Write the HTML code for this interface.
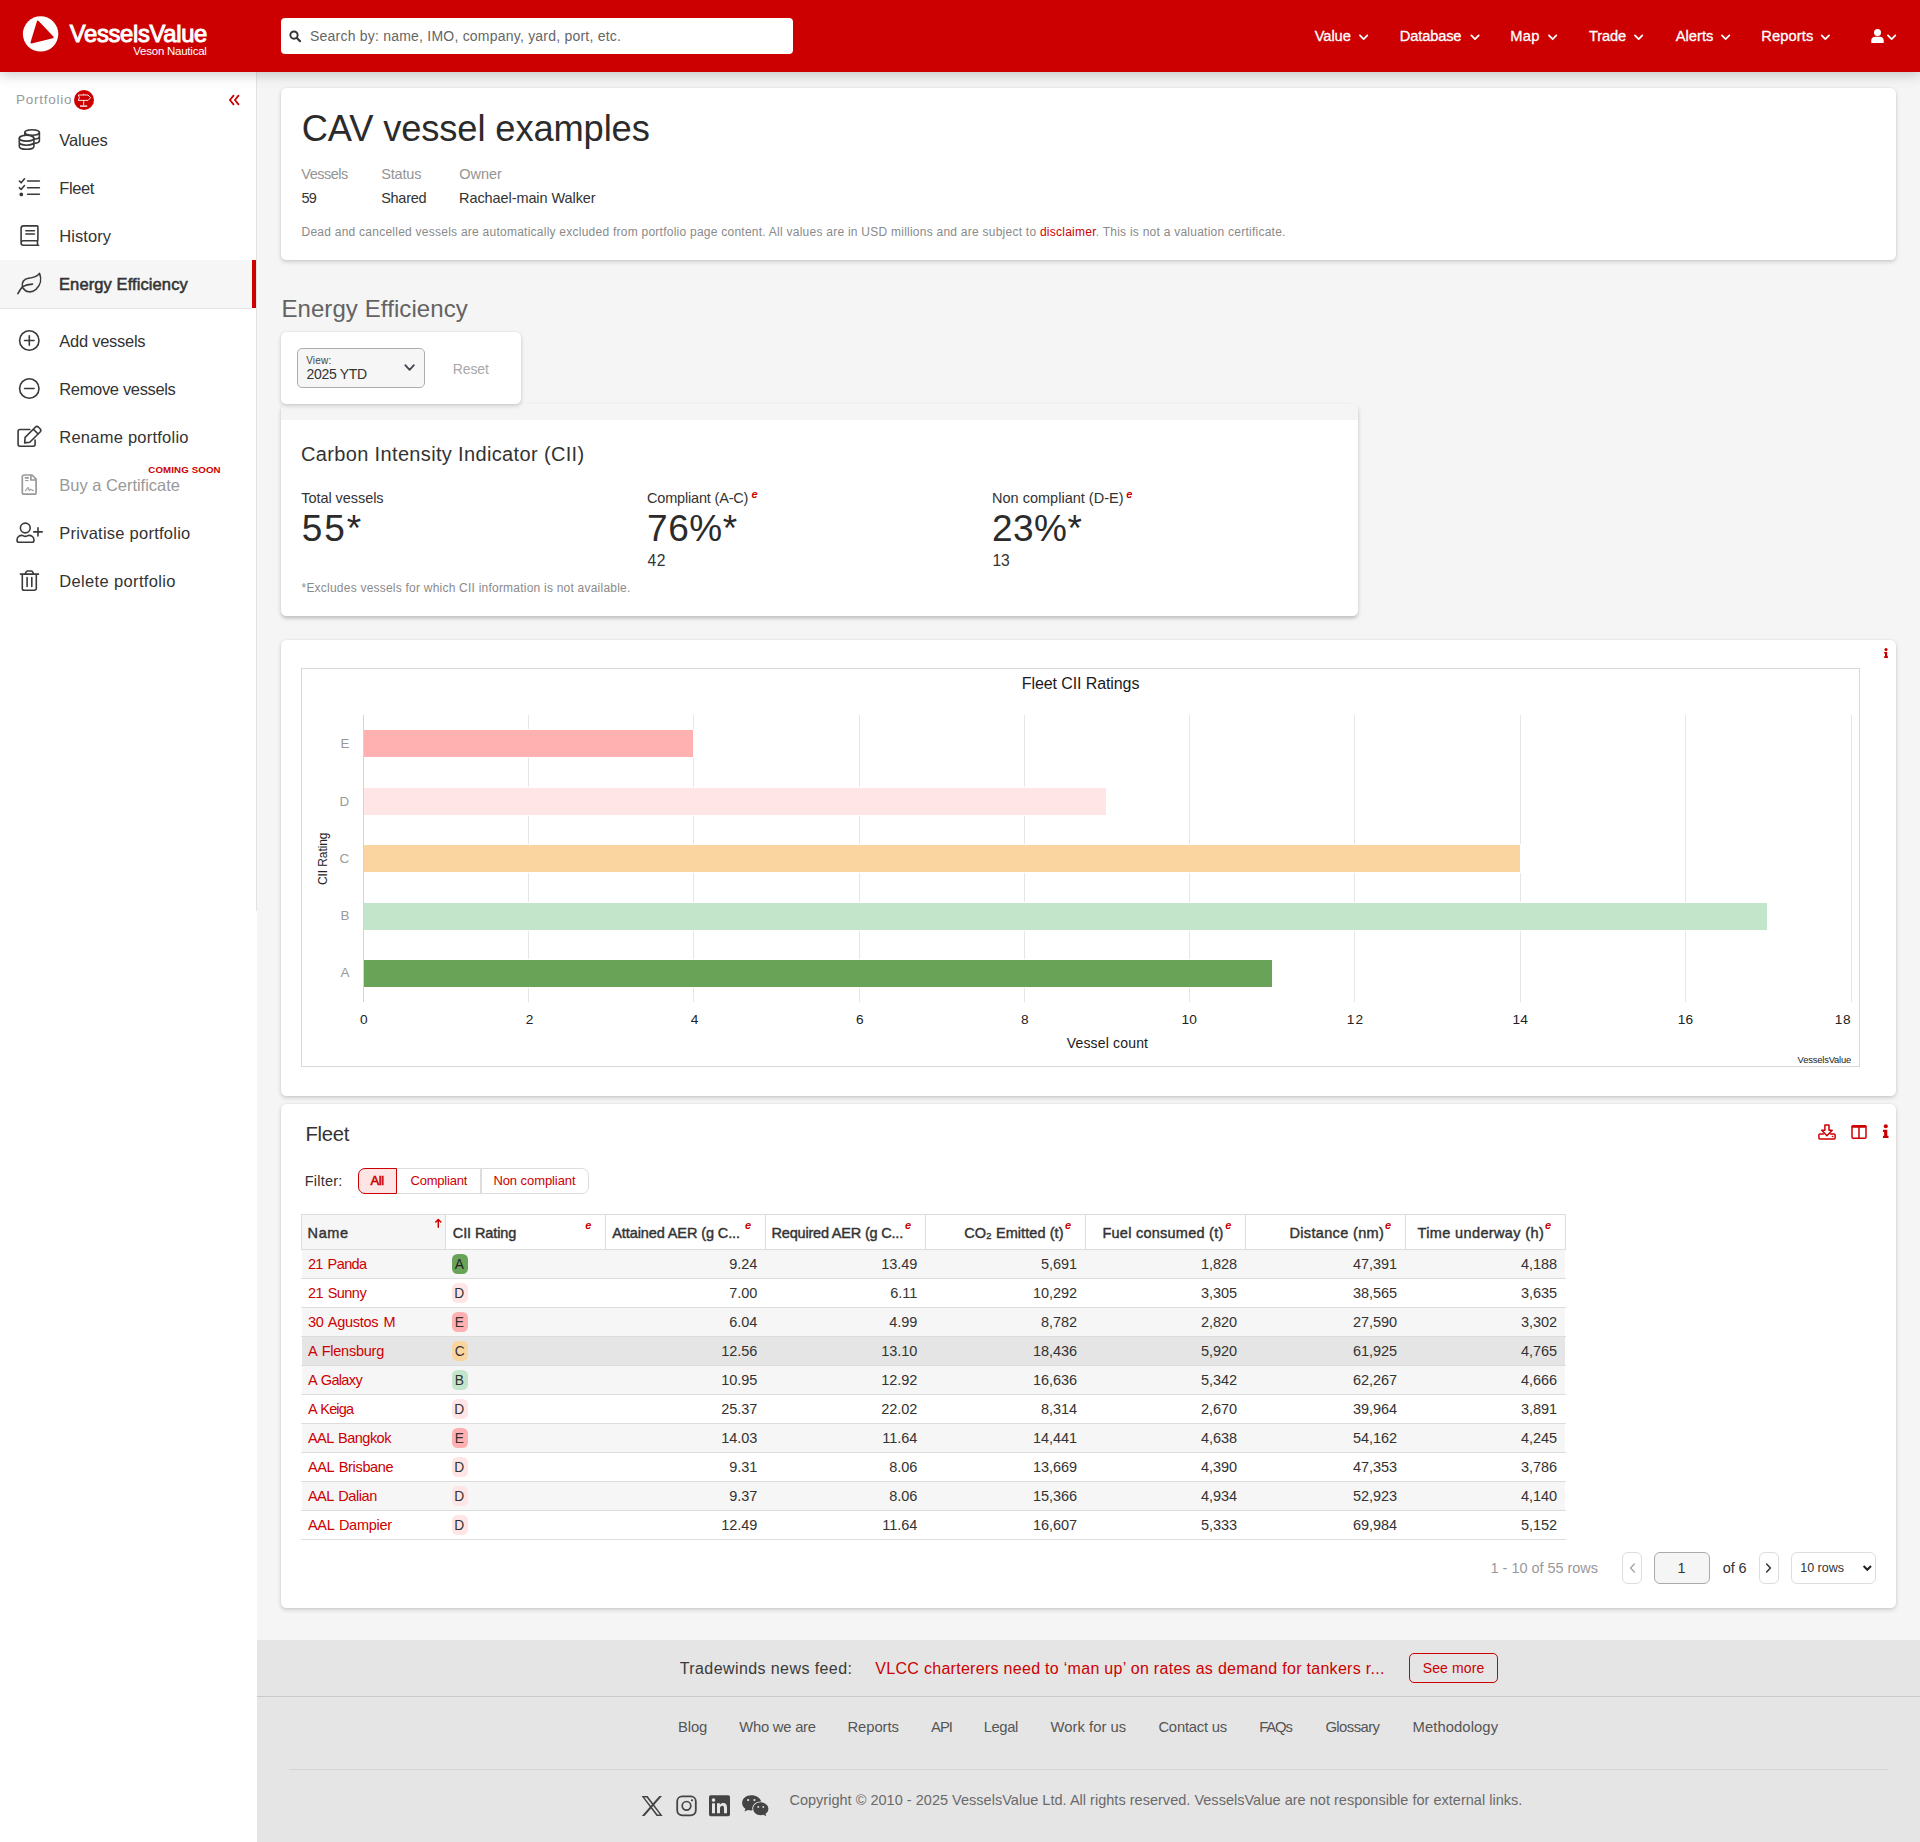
<!DOCTYPE html>
<html lang="en"><head>
<meta charset="utf-8">
<title>CAV vessel examples - Energy Efficiency</title>
<style>
*{box-sizing:border-box;margin:0;padding:0}
html,body{width:1920px;height:1842px;overflow:hidden;background:#fff;font-family:"Liberation Sans",sans-serif;color:#333}
body{position:relative}
.a{position:absolute}
.t{position:absolute;white-space:nowrap;line-height:1;font-size:14.5px;color:#333}
.red{color:#c00}
.g9{color:#949494}
.w{color:#fff}
.sb{font-weight:bold}
svg{position:absolute;overflow:visible}
#hdr{left:0;top:0;width:1920px;height:72px;background:#cc0000;box-shadow:0 3px 12px rgba(0,0,0,.2)}
#search{left:281px;top:18px;width:512px;height:36px;background:#fff;border-radius:4px}
#sideline{left:256px;top:72px;width:1px;height:839px;background:#e3e3e3}
#main{left:257px;top:72px;width:1663px;height:1568px;background:#f5f5f5}
.card{position:absolute;background:#fff;border-radius:5.5px;box-shadow:0 2px 4px rgba(0,0,0,.155),0 0 3px rgba(0,0,0,.07)}
#foot{left:257px;top:1640px;width:1663px;height:202px;background:#e5e5e5}
.si{font-size:16.5px}
.e{font-size:11px;font-style:italic;font-weight:bold;color:#c00}
.hb{font-size:14.5px;color:#333;-webkit-text-stroke:.42px}
.sm{-webkit-text-stroke:.55px}
.num{color:#333}
.nv{-webkit-text-stroke:0.3px #fff}
.tk{font-size:13.7px;color:#222}
.fl{color:#555;font-size:14.8px}
</style>
</head>
<body>
<div class="a" id="main"></div>
<div class="a" id="foot"></div>
<div class="a" id="sideline"></div>
<div class="a" id="hdr"></div>
<!-- logo -->
<svg style="left:23px;top:16px" width="36" height="36" viewBox="0 0 36 36"><circle cx="17.6" cy="17.9" r="17.7" fill="#fff"></circle><path d="M14.9 5.6 L29.6 21.3 L8.5 26.6 Z" fill="#cc0000" stroke="#cc0000" stroke-width="2" stroke-linejoin="round"></path></svg>
<span class="t w" style="font-size: 23.8px; -webkit-text-stroke: 1px rgb(255, 255, 255); letter-spacing: -0.325px; left: 69.8px; top: 21.9px;">VesselsValue</span>
<span class="t w" style="font-size: 11.5px; letter-spacing: -0.243px; left: 133.3px; top: 45.85px;">Veson Nautical</span>
<div class="a" id="search"></div>
<svg style="left:288px;top:29px" width="14" height="14" viewBox="288 29 14 14"><circle cx="294" cy="35.1" r="3.65" fill="none" stroke="#333" stroke-width="1.9"></circle><path d="M296.9 38 L300.1 41.2" stroke="#333" stroke-width="2.1" stroke-linecap="round"></path></svg>
<span class="t" style="font-size: 14px; color: rgb(102, 102, 102); letter-spacing: 0.218px; left: 310px; top: 28.8px;">Search by: name, IMO, company, yard, port, etc.</span>
<!-- nav -->
<span class="t w nv" style="font-size: 14.7px; letter-spacing: -0.079px; left: 1314.7px; top: 29.15px;">Value</span>
<span class="t w nv" style="font-size: 14.7px; letter-spacing: -0.172px; left: 1399.8px; top: 29.15px;">Database</span>
<span class="t w nv" style="font-size: 14.7px; letter-spacing: 0.295px; left: 1510.3px; top: 29.15px;">Map</span>
<span class="t w nv" style="font-size: 14.7px; letter-spacing: -0.165px; left: 1589px; top: 29.15px;">Trade</span>
<span class="t w nv" style="font-size: 14.7px; letter-spacing: 0.019px; left: 1675.7px; top: 29.15px;">Alerts</span>
<span class="t w nv" style="font-size: 14.7px; letter-spacing: 0.101px; left: 1761.3px; top: 29.15px;">Reports</span>
<svg style="left:0;top:0" width="1920" height="72" viewBox="0 0 1920 72" fill="none" stroke="#fff" stroke-width="1.75" stroke-linecap="round" stroke-linejoin="round">
<path d="M1359.95 35.4 l3.7 3.8 l3.7 -3.8"></path><path d="M1471.35 35.4 l3.7 3.8 l3.7 -3.8"></path><path d="M1548.95 35.4 l3.7 3.8 l3.7 -3.8"></path><path d="M1634.95 35.4 l3.7 3.8 l3.7 -3.8"></path><path d="M1721.95 35.4 l3.7 3.8 l3.7 -3.8"></path><path d="M1821.65 35.4 l3.7 3.8 l3.7 -3.8"></path><path d="M1887.95 35.4 l3.7 3.8 l3.7 -3.8"></path>
</svg>
<svg style="left:1870.5px;top:29px" width="13" height="14" viewBox="0 0 13 14"><circle cx="6.5" cy="3.6" r="3.5" fill="#fff"></circle><path d="M0.3 14 V11.2 C0.3 9 2 7.8 4 7.8 H9 C11 7.8 12.7 9 12.7 11.2 V14 Z" fill="#fff"></path></svg>
<!-- sidebar -->
<div class="a" style="left:0;top:260px;width:256px;height:48px;background:#f6f6f6"></div>
<div class="a" style="left:252px;top:260px;width:4px;height:48px;background:#cc0000"></div>
<div class="a" style="left:0;top:308px;width:252px;height:1px;background:#e4e4e4"></div>
<span class="t" style="font-size: 13.5px; color: rgb(153, 153, 153); letter-spacing: 0.747px; left: 16px; top: 93.35px;">Portfolio</span>
<svg style="left:74px;top:90px" width="20" height="20" viewBox="74 90 20 20"><circle cx="84" cy="100" r="10" fill="#cc0000"></circle><path d="M78.3 95 H88 L90.6 97.7 L88 100.4 H78.3 L79.4 97.7 Z M83.7 93.8 V95 M83.7 100.4 V105.4" fill="none" stroke="#fff" stroke-width="0.9" stroke-linejoin="round"></path><path d="M80 106.1 H87.2" stroke="#fff" stroke-width="1.3"></path></svg>
<svg style="left:228px;top:94px" width="14" height="12" viewBox="228 94 14 12" fill="none" stroke="#c00" stroke-width="1.8" stroke-linecap="round" stroke-linejoin="round"><path d="M233.5 95.7 L229.9 100 L233.5 104.3 M238.5 95.7 L234.9 100 L238.5 104.3"></path></svg>
<span class="t si" style="letter-spacing: -0.137px; left: 59.3px; top: 131.95px;">Values</span>
<span class="t si" style="letter-spacing: -0.401px; left: 59.3px; top: 179.95px;">Fleet</span>
<span class="t si" style="letter-spacing: 0.068px; left: 59.3px; top: 227.95px;">History</span>
<span class="t si sm" style="letter-spacing: 0.098px; left: 59px; top: 275.65px;">Energy Efficiency</span>
<span class="t si" style="letter-spacing: -0.272px; left: 59.3px; top: 332.95px;">Add vessels</span>
<span class="t si" style="letter-spacing: -0.346px; left: 59.3px; top: 380.95px;">Remove vessels</span>
<span class="t si" style="letter-spacing: 0.235px; left: 59.3px; top: 428.95px;">Rename portfolio</span>
<span class="t si" style="color: rgb(153, 153, 153); letter-spacing: -0.03px; left: 59.3px; top: 476.95px;">Buy a Certificate</span>
<span class="t si" style="letter-spacing: 0.245px; left: 59.3px; top: 524.95px;">Privatise portfolio</span>
<span class="t si" style="letter-spacing: 0.346px; left: 59.3px; top: 572.95px;">Delete portfolio</span>
<span class="t red sb" style="font-size: 9.7px; letter-spacing: 0.125px; left: 148.3px; top: 464.65px;">COMING SOON</span>
<svg style="left:0;top:120px" width="60" height="480" viewBox="0 120 60 480" fill="none" stroke="#3a3a3a" stroke-width="1.6" stroke-linecap="round" stroke-linejoin="round">
<!-- coins -->
<ellipse cx="32.1" cy="132.5" rx="7.3" ry="2.8"></ellipse>
<path d="M24.8 132.5 V135.4 M39.4 132.5 V140.7 A7.3 2.8 0 0 1 34.3 143.4 M39.4 136.6 A7.3 2.8 0 0 1 34.3 139.3"></path>
<ellipse cx="26.6" cy="138.2" rx="7.3" ry="2.9"></ellipse>
<path d="M19.3 138.2 V146.4 A7.3 2.9 0 0 0 33.9 146.4 V138.2 M19.3 142.3 A7.3 2.9 0 0 0 33.9 142.3"></path>
<!-- tasks -->
<path d="M27.6 181 H39.4 M27.6 187.7 H39.4 M27.6 194.3 H39.4 M19.4 181 L21.1 182.8 L24.5 178.8 M19.4 187.7 L21.1 189.5 L24.5 185.5"></path>
<circle cx="21.3" cy="194.4" r="1.1" fill="#3a3a3a"></circle>
<!-- book -->
<path d="M21.1 243 V228.4 A2.5 2.5 0 0 1 23.6 225.9 H37.1 Q37.9 225.9 37.9 226.7 V240 Q37.9 240.8 37.1 240.8 H23.3 A2.2 2.2 0 0 0 23.3 245.2 H38.6 M37.5 240.8 V245.2 M25.9 230.8 H34.4 M25.9 234 H34.4"></path>
<!-- leaf -->
<path d="M17.9 293.7 Q19.8 289.6 22.6 286.6 Q26.8 284.3 32.5 284.1 M22.4 286.5 C21.5 282.4 24 278.7 28.5 278.3 C33 277.9 36.6 277.4 39.5 273.4 C41.9 279 40.6 285.2 36 289.4 C31.6 293.2 25.6 292.6 23 287.8"></path>
<!-- plus circle -->
<circle cx="29.3" cy="340.5" r="9.7"></circle><path d="M24.6 340.5 H34 M29.3 335.8 V345.2"></path>
<!-- minus circle -->
<circle cx="29.3" cy="388.5" r="9.7"></circle><path d="M24.6 388.5 H34"></path>
<!-- edit -->
<path d="M29.8 429.5 H20 A1.9 1.9 0 0 0 18.1 431.4 V444.3 A1.9 1.9 0 0 0 20 446.2 H33.2 A1.9 1.9 0 0 0 35.1 444.3 V440"></path>
<path d="M25.1 437.4 L35.3 427.2 Q36.9 425.7 38.5 427.2 L40.1 428.8 Q41.6 430.4 40.1 432 L29.8 442.3 L24.7 442.9 Z M33.5 429.4 L37.9 433.8"></path>
<!-- user plus -->
<circle cx="25.3" cy="528" r="4.9"></circle>
<path d="M17 540.2 C17 537.2 19.3 535.4 22 535.4 C23.2 535.4 23.8 536.4 25.4 536.4 C27 536.4 27.6 535.4 28.8 535.4 C31.6 535.4 34 537.2 34 540.2 Q34 542.3 32 542.3 H19 Q17 542.3 17 540.2 Z M33.8 531.9 H42.2 M38 527.8 V536"></path>
<!-- trash -->
<path d="M20.4 574.1 H38.5 M24.8 574.1 L26.4 571.6 Q26.8 571 27.5 571 H31.3 Q32 571 32.4 571.6 L33.8 574.1 M22.3 574.3 V588.4 A1.8 1.8 0 0 0 24.1 590.2 H34.5 A1.8 1.8 0 0 0 36.3 588.4 V574.3 M27.1 577.6 V586.4 M31.8 577.6 V586.4"></path>
</svg>
<!-- certificate (gray) -->
<svg style="left:0;top:464px" width="60" height="40" viewBox="0 464 60 40" fill="none" stroke="#999" stroke-width="1.7" stroke-linecap="round" stroke-linejoin="round">
<path d="M24 475 H32 L36.1 479.2 V492.4 A1.7 1.7 0 0 1 34.4 494.1 H24 A1.7 1.7 0 0 1 22.3 492.4 V476.7 A1.7 1.7 0 0 1 24 475 Z M30.9 475.2 V480 H36"></path>
<path d="M25.4 477.9 H28.3" stroke-width="1.6"></path><path d="M25.4 480.6 H28.3" stroke-width="1"></path>
<path d="M25.4 490.6 C27 490.6 27 487.6 28 487.6 C29 487.6 28.8 490.8 29.4 490.6 C30 490.4 30 489.2 30.8 489.2 C31.8 489.2 32 490.6 33.4 490.6" stroke-width="1.1"></path>
</svg>
<!-- title card -->
<div class="card" style="left:281px;top:88px;width:1615px;height:172px"></div>
<span class="t" style="font-size: 36.3px; color: rgb(43, 43, 43); letter-spacing: -0.122px; left: 301.7px; top: 111.25px;">CAV vessel examples</span>
<span class="t g9" style="letter-spacing: -0.489px; left: 301.3px; top: 166.95px;">Vessels</span>
<span class="t g9" style="letter-spacing: -0.172px; left: 381.2px; top: 166.95px;">Status</span>
<span class="t g9" style="letter-spacing: -0.023px; left: 459.2px; top: 166.95px;">Owner</span>
<span class="t" style="letter-spacing: -0.776px; left: 301.5px; top: 190.75px;">59</span>
<span class="t" style="letter-spacing: -0.28px; left: 381.2px; top: 190.75px;">Shared</span>
<span class="t" style="letter-spacing: -0.08px; left: 459px; top: 190.75px;">Rachael-main Walker</span>
<span class="t" style="font-size: 12px; color: rgb(138, 138, 138); letter-spacing: 0.246px; left: 301.5px; top: 226px;">Dead and cancelled vessels are automatically excluded from portfolio page content. All values are in USD millions and are subject to <span class="red">disclaimer</span>. This is not a valuation certificate.</span>
<!-- heading -->
<span class="t" style="font-size: 24px; color: rgb(99, 99, 99); letter-spacing: 0.088px; left: 281.4px; top: 296.9px;">Energy Efficiency</span>
<!-- filter card -->
<div class="card" style="left:281px;top:404px;width:1077px;height:212px;background:#f5f5f5;box-shadow:0 2px 4px rgba(0,0,0,.155),1px 3px 3px rgba(0,0,0,.04),-1px 3px 3px rgba(0,0,0,.04)"></div>
<div class="card" style="left:281px;top:332px;width:240px;height:72px"></div>
<div class="a" style="left:297px;top:348px;width:128px;height:40px;border:1px solid #adadad;border-radius:5px;background:#f6f6f6"></div>
<span class="t" style="font-size: 10px; color: rgb(68, 68, 68); letter-spacing: 0.174px; left: 306.2px; top: 355.8px;">View:</span>
<span class="t" style="font-size: 14px; letter-spacing: -0.31px; left: 306.5px; top: 366.9px;">2025 YTD</span>
<svg style="left:403px;top:362px" width="12" height="10" viewBox="403 362 12 10" fill="none" stroke="#454550" stroke-width="1.8" stroke-linecap="round" stroke-linejoin="round"><path d="M405.3 365.2 L409.6 369.8 L413.9 365.2"></path></svg>
<span class="t" style="font-size: 14px; color: rgb(168, 168, 168); letter-spacing: -0.122px; left: 452.8px; top: 362.1px;">Reset</span>
<!-- CII card -->
<div class="a" style="left:281px;top:420px;width:1077px;height:196px;background:#fff;border-radius:0 0 6px 6px"></div>
<span class="t" style="font-size: 20px; letter-spacing: 0.349px; left: 301px; top: 444px;">Carbon Intensity Indicator (CII)</span>
<span class="t" style="letter-spacing: -0.064px; left: 301.3px; top: 491.05px;">Total vessels</span>
<span class="t" style="font-size: 37px; color: rgb(43, 43, 43); letter-spacing: 1.918px; left: 301.7px; top: 510px;">55*</span>
<span class="t" style="letter-spacing: -0.179px; left: 647px; top: 491.05px;">Compliant (A-C)</span>
<span class="t e" style="letter-spacing: 0px; left: 751.6px; top: 488.9px;">e</span>
<span class="t" style="font-size: 37px; color: rgb(43, 43, 43); letter-spacing: 0.549px; left: 647px; top: 510px;">76%*</span>
<span class="t" style="font-size: 15.7px; letter-spacing: 0.472px; left: 647.5px; top: 552.65px;">42</span>
<span class="t" style="letter-spacing: 0.01px; left: 992px; top: 491.05px;">Non compliant (D-E)</span>
<span class="t e" style="letter-spacing: 0px; left: 1126.3px; top: 488.9px;">e</span>
<span class="t" style="font-size: 37px; color: rgb(43, 43, 43); letter-spacing: 0.482px; left: 992px; top: 510px;">23%*</span>
<span class="t" style="font-size: 15.7px; letter-spacing: -0.328px; left: 992.6px; top: 552.65px;">13</span>
<span class="t" style="font-size: 12px; color: rgb(138, 138, 138); letter-spacing: 0.222px; left: 301.5px; top: 581.7px;">*Excludes vessels for which CII information is not available.</span>
<!-- chart card -->
<div class="card" style="left:281px;top:640px;width:1615px;height:456px"></div>
<div class="a" style="left:301px;top:668px;width:1559px;height:399px;border:1px solid #d9d9d9"></div>
<svg style="left:0;top:640px" width="1920" height="460" viewBox="0 640 1920 460" shape-rendering="crispEdges">
<g stroke="#e6e6e6" stroke-width="1">
<path d="M528.5 715 V1002 M693.5 715 V1002 M859.5 715 V1002 M1024.5 715 V1002 M1189.5 715 V1002 M1354.5 715 V1002 M1520.5 715 V1002 M1685.5 715 V1002 M1851.5 715 V1002"></path>
</g>
<rect x="363.5" y="729.5" width="330.0" height="28.0" fill="none" stroke="#fff" stroke-width="1"></rect><rect x="364" y="730" width="329" height="27" fill="#ffb0b0"></rect>
<rect x="363.5" y="787.5" width="743.0" height="28.0" fill="none" stroke="#fff" stroke-width="1"></rect><rect x="364" y="788" width="742" height="27" fill="#ffe5e5"></rect>
<rect x="363.5" y="844.5" width="1157.0" height="28.0" fill="none" stroke="#fff" stroke-width="1"></rect><rect x="364" y="845" width="1156" height="27" fill="#fbd5a0"></rect>
<rect x="363.5" y="902.5" width="1404.0" height="28.0" fill="none" stroke="#fff" stroke-width="1"></rect><rect x="364" y="903" width="1403" height="27" fill="#c3e6cb"></rect>
<rect x="363.5" y="959.5" width="909.0" height="28.0" fill="none" stroke="#fff" stroke-width="1"></rect><rect x="364" y="960" width="908" height="27" fill="#68a357"></rect>
<path d="M363.5 715 V1002" stroke="#ccd6eb" stroke-width="1"></path>
</svg>
<span class="t" style="font-size: 16px; color: rgb(26, 26, 26); letter-spacing: -0.097px; left: 1021.8px; top: 676px;">Fleet CII Ratings</span>
<span class="t" style="font-size: 13.4px; color: rgb(153, 153, 153); letter-spacing: 0px; left: 340.49px; top: 736.6px;">E</span>
<span class="t" style="font-size: 13.4px; color: rgb(153, 153, 153); letter-spacing: 0px; left: 339.5px; top: 794.6px;">D</span>
<span class="t" style="font-size: 13.4px; color: rgb(153, 153, 153); letter-spacing: 0px; left: 339.5px; top: 851.6px;">C</span>
<span class="t" style="font-size: 13.4px; color: rgb(153, 153, 153); letter-spacing: 0px; left: 340.49px; top: 909px;">B</span>
<span class="t" style="font-size: 13.4px; color: rgb(153, 153, 153); letter-spacing: 0px; left: 340.49px; top: 966.3px;">A</span>
<span class="t tk" style="letter-spacing: 0px; left: 359.89px; top: 1012.55px;">0</span>
<span class="t tk" style="letter-spacing: 0px; left: 525.79px; top: 1012.55px;">2</span>
<span class="t tk" style="letter-spacing: 0px; left: 690.69px; top: 1012.55px;">4</span>
<span class="t tk" style="letter-spacing: 0px; left: 855.89px; top: 1012.55px;">6</span>
<span class="t tk" style="letter-spacing: 0px; left: 1020.89px; top: 1012.55px;">8</span>
<span class="t tk" style="letter-spacing: 0.078px; left: 1181.55px; top: 1012.55px;">10</span>
<span class="t tk" style="letter-spacing: 1.078px; left: 1346.75px; top: 1012.55px;">12</span>
<span class="t tk" style="letter-spacing: 0.078px; left: 1512.45px; top: 1012.55px;">14</span>
<span class="t tk" style="letter-spacing: 0.078px; left: 1677.85px; top: 1012.55px;">16</span>
<span class="t tk" style="letter-spacing: 0.578px; left: 1834.8px; top: 1012.55px;">18</span>
<span class="t" style="font-size: 14px; color: rgb(26, 26, 26); letter-spacing: 0.173px; left: 1066.7px; top: 1035.9px;">Vessel count</span>
<span class="t" style="font-size: 9.4px; color: rgb(34, 34, 34); letter-spacing: -0.18px; left: 1797.6px; top: 1054.8px;">VesselsValue</span>
<div class="a" style="left:292.5px;top:848px;width:60px;height:20px;transform:rotate(-90deg);transform-origin:center"><span class="t" style="font-size:12px;color:#222;left:3px;top:4px;letter-spacing:-.1px">CII Rating</span></div>
<svg style="left:1882px;top:646px" width="8" height="14" viewBox="1882 646 8 14"><circle cx="1886" cy="649.6" r="1.55" fill="#c00"></circle><path d="M1884.1 652.1 H1887.2 V656.3 H1888 V658 H1884.1 V656.3 H1885 V653.6 H1884.1 Z" fill="#c00"></path></svg>
<!-- fleet card -->
<div class="card" style="left:281px;top:1104px;width:1615px;height:504px"></div>
<span class="t" style="font-size: 20.3px; letter-spacing: -0.29px; left: 305.4px; top: 1123.85px;">Fleet</span>
<span class="t" style="letter-spacing: 0.213px; left: 304.8px; top: 1173.75px;">Filter:</span>
<div class="a" style="left:358px;top:1168px;width:231px;height:26px;border:1px solid #ddd;border-radius:7px;background:#fff"></div>
<div class="a" style="left:480px;top:1169px;width:2px;height:24px;background:#ddd"></div>
<div class="a" style="left:358px;top:1168px;width:39px;height:26px;border:1px solid #c00;border-radius:7px 0 0 7px;background:#fde5e5"></div>
<span class="t red sm" style="font-size: 13px; letter-spacing: -0.482px; left: 370.6px; top: 1173.9px;">All</span>
<span class="t red" style="font-size: 13px; letter-spacing: -0.215px; left: 410.5px; top: 1173.9px;">Compliant</span>
<span class="t red" style="font-size: 13px; letter-spacing: -0.075px; left: 493.4px; top: 1173.9px;">Non compliant</span>
<div class="a" style="left:301px;top:1214px;width:1265px;height:36px;background:#fff;border:1px solid #ddd"></div>
<div class="a" style="left:302px;top:1215px;width:143px;height:34px;background:#f6f6f6"></div>
<div class="a" style="left:445px;top:1215px;width:1px;height:34px;background:#ddd"></div>
<div class="a" style="left:605px;top:1215px;width:1px;height:34px;background:#ddd"></div>
<div class="a" style="left:765px;top:1215px;width:1px;height:34px;background:#ddd"></div>
<div class="a" style="left:925px;top:1215px;width:1px;height:34px;background:#ddd"></div>
<div class="a" style="left:1085px;top:1215px;width:1px;height:34px;background:#ddd"></div>
<div class="a" style="left:1245px;top:1215px;width:1px;height:34px;background:#ddd"></div>
<div class="a" style="left:1405px;top:1215px;width:1px;height:34px;background:#ddd"></div>
<div class="a" style="left:302px;top:1250px;width:1263px;height:28px;background:#f6f6f6"></div>
<div class="a" style="left:301px;top:1278px;width:1265px;height:1px;background:#ddd"></div>
<div class="a" style="left:302px;top:1279px;width:1263px;height:28px;background:#fff"></div>
<div class="a" style="left:301px;top:1307px;width:1265px;height:1px;background:#ddd"></div>
<div class="a" style="left:302px;top:1308px;width:1263px;height:28px;background:#f6f6f6"></div>
<div class="a" style="left:301px;top:1336px;width:1265px;height:1px;background:#ddd"></div>
<div class="a" style="left:302px;top:1337px;width:1263px;height:28px;background:#e5e5e5"></div>
<div class="a" style="left:301px;top:1365px;width:1265px;height:1px;background:#ddd"></div>
<div class="a" style="left:302px;top:1366px;width:1263px;height:28px;background:#f6f6f6"></div>
<div class="a" style="left:301px;top:1394px;width:1265px;height:1px;background:#ddd"></div>
<div class="a" style="left:302px;top:1395px;width:1263px;height:28px;background:#fff"></div>
<div class="a" style="left:301px;top:1423px;width:1265px;height:1px;background:#ddd"></div>
<div class="a" style="left:302px;top:1424px;width:1263px;height:28px;background:#f6f6f6"></div>
<div class="a" style="left:301px;top:1452px;width:1265px;height:1px;background:#ddd"></div>
<div class="a" style="left:302px;top:1453px;width:1263px;height:28px;background:#fff"></div>
<div class="a" style="left:301px;top:1481px;width:1265px;height:1px;background:#ddd"></div>
<div class="a" style="left:302px;top:1482px;width:1263px;height:28px;background:#f6f6f6"></div>
<div class="a" style="left:301px;top:1510px;width:1265px;height:1px;background:#ddd"></div>
<div class="a" style="left:302px;top:1511px;width:1263px;height:28px;background:#fff"></div>
<div class="a" style="left:301px;top:1539px;width:1265px;height:1px;background:#ddd"></div>
<span class="t hb" style="letter-spacing: 0.592px; left: 307.6px; top: 1225.95px;">Name</span>
<span class="t hb" style="letter-spacing: -0.113px; left: 452.8px; top: 1225.95px;">CII Rating</span>
<span class="t hb" style="letter-spacing: -0.107px; left: 612.3px; top: 1225.95px;">Attained AER (g C...</span>
<span class="t hb" style="letter-spacing: -0.194px; left: 771.5px; top: 1225.95px;">Required AER (g C...</span>
<span class="t hb" style="letter-spacing: 0.075px; left: 964.2px; top: 1225.95px;">CO₂ Emitted (t)</span>
<span class="t hb" style="letter-spacing: 0.254px; left: 1102.4px; top: 1225.95px;">Fuel consumed (t)</span>
<span class="t hb" style="letter-spacing: 0.348px; left: 1289.4px; top: 1225.95px;">Distance (nm)</span>
<span class="t hb" style="letter-spacing: 0.362px; left: 1417.6px; top: 1225.95px;">Time underway (h)</span>
<span class="t e" style="letter-spacing: 0px; left: 585.3px; top: 1220px;">e</span>
<span class="t e" style="letter-spacing: 0px; left: 745.1px; top: 1220px;">e</span>
<span class="t e" style="letter-spacing: 0px; left: 905px; top: 1220px;">e</span>
<span class="t e" style="letter-spacing: 0px; left: 1065px; top: 1220px;">e</span>
<span class="t e" style="letter-spacing: 0px; left: 1225.2px; top: 1220px;">e</span>
<span class="t e" style="letter-spacing: 0px; left: 1384.9px; top: 1220px;">e</span>
<span class="t e" style="letter-spacing: 0px; left: 1545px; top: 1220px;">e</span>
<svg style="left:434px;top:1218px" width="8" height="11" viewBox="434 1218 8 11" fill="none" stroke="#c00" stroke-width="1.5" stroke-linecap="round" stroke-linejoin="round"><path d="M438.3 1227.2 V1219.7 M435.8 1222 L438.3 1219.5 L440.8 1222"></path></svg>
<span class="t red" style="word-spacing: 1.3px; letter-spacing: -0.589px; left: 307.9px; top: 1256.75px;">21 Panda</span>
<div class="a" style="left:452px;top:1254.4px;width:16px;height:19.4px;border-radius:5.5px;background:#68a357"></div>
<span class="t" style="color: rgb(34, 34, 34); font-size: 13.8px; letter-spacing: 0px; left: 454.8px; top: 1257.6px;">A</span>
<span class="t num" style="letter-spacing: -0.08px; left: 729.27px; top: 1256.75px;">9.24</span>
<span class="t num" style="letter-spacing: -0.08px; left: 881.29px; top: 1256.75px;">13.49</span>
<span class="t num" style="letter-spacing: -0.08px; left: 1041.09px; top: 1256.75px;">5,691</span>
<span class="t num" style="letter-spacing: -0.08px; left: 1201.09px; top: 1256.75px;">1,828</span>
<span class="t num" style="letter-spacing: -0.08px; left: 1353.1px; top: 1256.75px;">47,391</span>
<span class="t num" style="letter-spacing: -0.08px; left: 1521.09px; top: 1256.75px;">4,188</span>
<span class="t red" style="word-spacing: 1.3px; letter-spacing: -0.547px; left: 307.9px; top: 1285.75px;">21 Sunny</span>
<div class="a" style="left:452px;top:1283.4px;width:16px;height:19.4px;border-radius:5.5px;background:#ffe5e5"></div>
<span class="t" style="color: rgb(51, 51, 51); font-size: 13.8px; letter-spacing: 0px; left: 454.3px; top: 1286.6px;">D</span>
<span class="t num" style="letter-spacing: -0.08px; left: 729.27px; top: 1285.75px;">7.00</span>
<span class="t num" style="letter-spacing: -0.08px; left: 890.35px; top: 1285.75px;">6.11</span>
<span class="t num" style="letter-spacing: -0.08px; left: 1033.1px; top: 1285.75px;">10,292</span>
<span class="t num" style="letter-spacing: -0.08px; left: 1201.09px; top: 1285.75px;">3,305</span>
<span class="t num" style="letter-spacing: -0.08px; left: 1353.1px; top: 1285.75px;">38,565</span>
<span class="t num" style="letter-spacing: -0.08px; left: 1521.09px; top: 1285.75px;">3,635</span>
<span class="t red" style="word-spacing: 1.3px; letter-spacing: -0.263px; left: 307.9px; top: 1314.75px;">30 Agustos M</span>
<div class="a" style="left:452px;top:1312.4px;width:16px;height:19.4px;border-radius:5.5px;background:#ffb0b0"></div>
<span class="t" style="color: rgb(51, 51, 51); font-size: 13.8px; letter-spacing: 0px; left: 454.8px; top: 1315.6px;">E</span>
<span class="t num" style="letter-spacing: -0.08px; left: 729.27px; top: 1314.75px;">6.04</span>
<span class="t num" style="letter-spacing: -0.08px; left: 889.27px; top: 1314.75px;">4.99</span>
<span class="t num" style="letter-spacing: -0.08px; left: 1041.09px; top: 1314.75px;">8,782</span>
<span class="t num" style="letter-spacing: -0.08px; left: 1201.09px; top: 1314.75px;">2,820</span>
<span class="t num" style="letter-spacing: -0.08px; left: 1353.1px; top: 1314.75px;">27,590</span>
<span class="t num" style="letter-spacing: -0.08px; left: 1521.09px; top: 1314.75px;">3,302</span>
<span class="t red" style="word-spacing: 1.3px; letter-spacing: -0.232px; left: 307.9px; top: 1343.75px;">A Flensburg</span>
<div class="a" style="left:452px;top:1341.4px;width:16px;height:19.4px;border-radius:5.5px;background:#fbd5a0"></div>
<span class="t" style="color: rgb(51, 51, 51); font-size: 13.8px; letter-spacing: 0px; left: 454.8px; top: 1344.6px;">C</span>
<span class="t num" style="letter-spacing: -0.08px; left: 721.29px; top: 1343.75px;">12.56</span>
<span class="t num" style="letter-spacing: -0.08px; left: 881.29px; top: 1343.75px;">13.10</span>
<span class="t num" style="letter-spacing: -0.08px; left: 1033.1px; top: 1343.75px;">18,436</span>
<span class="t num" style="letter-spacing: -0.08px; left: 1201.09px; top: 1343.75px;">5,920</span>
<span class="t num" style="letter-spacing: -0.08px; left: 1353.1px; top: 1343.75px;">61,925</span>
<span class="t num" style="letter-spacing: -0.08px; left: 1521.09px; top: 1343.75px;">4,765</span>
<span class="t red" style="word-spacing: 1.3px; letter-spacing: -0.656px; left: 307.9px; top: 1372.75px;">A Galaxy</span>
<div class="a" style="left:452px;top:1370.4px;width:16px;height:19.4px;border-radius:5.5px;background:#c3e6cb"></div>
<span class="t" style="color: rgb(51, 51, 51); font-size: 13.8px; letter-spacing: 0px; left: 454.8px; top: 1373.6px;">B</span>
<span class="t num" style="letter-spacing: -0.08px; left: 721.29px; top: 1372.75px;">10.95</span>
<span class="t num" style="letter-spacing: -0.08px; left: 881.29px; top: 1372.75px;">12.92</span>
<span class="t num" style="letter-spacing: -0.08px; left: 1033.1px; top: 1372.75px;">16,636</span>
<span class="t num" style="letter-spacing: -0.08px; left: 1201.09px; top: 1372.75px;">5,342</span>
<span class="t num" style="letter-spacing: -0.08px; left: 1353.1px; top: 1372.75px;">62,267</span>
<span class="t num" style="letter-spacing: -0.08px; left: 1521.09px; top: 1372.75px;">4,666</span>
<span class="t red" style="word-spacing: 1.3px; letter-spacing: -0.872px; left: 307.9px; top: 1401.75px;">A Keiga</span>
<div class="a" style="left:452px;top:1399.4px;width:16px;height:19.4px;border-radius:5.5px;background:#ffe5e5"></div>
<span class="t" style="color: rgb(51, 51, 51); font-size: 13.8px; letter-spacing: 0px; left: 454.3px; top: 1402.6px;">D</span>
<span class="t num" style="letter-spacing: -0.08px; left: 721.29px; top: 1401.75px;">25.37</span>
<span class="t num" style="letter-spacing: -0.08px; left: 881.29px; top: 1401.75px;">22.02</span>
<span class="t num" style="letter-spacing: -0.08px; left: 1041.09px; top: 1401.75px;">8,314</span>
<span class="t num" style="letter-spacing: -0.08px; left: 1201.09px; top: 1401.75px;">2,670</span>
<span class="t num" style="letter-spacing: -0.08px; left: 1353.1px; top: 1401.75px;">39,964</span>
<span class="t num" style="letter-spacing: -0.08px; left: 1521.09px; top: 1401.75px;">3,891</span>
<span class="t red" style="word-spacing: 1.3px; letter-spacing: -0.509px; left: 307.9px; top: 1430.75px;">AAL Bangkok</span>
<div class="a" style="left:452px;top:1428.4px;width:16px;height:19.4px;border-radius:5.5px;background:#ffb0b0"></div>
<span class="t" style="color: rgb(51, 51, 51); font-size: 13.8px; letter-spacing: 0px; left: 454.8px; top: 1431.6px;">E</span>
<span class="t num" style="letter-spacing: -0.08px; left: 721.29px; top: 1430.75px;">14.03</span>
<span class="t num" style="letter-spacing: -0.08px; left: 882.37px; top: 1430.75px;">11.64</span>
<span class="t num" style="letter-spacing: -0.08px; left: 1033.1px; top: 1430.75px;">14,441</span>
<span class="t num" style="letter-spacing: -0.08px; left: 1201.09px; top: 1430.75px;">4,638</span>
<span class="t num" style="letter-spacing: -0.08px; left: 1353.1px; top: 1430.75px;">54,162</span>
<span class="t num" style="letter-spacing: -0.08px; left: 1521.09px; top: 1430.75px;">4,245</span>
<span class="t red" style="word-spacing: 1.3px; letter-spacing: -0.334px; left: 307.9px; top: 1459.75px;">AAL Brisbane</span>
<div class="a" style="left:452px;top:1457.4px;width:16px;height:19.4px;border-radius:5.5px;background:#ffe5e5"></div>
<span class="t" style="color: rgb(51, 51, 51); font-size: 13.8px; letter-spacing: 0px; left: 454.3px; top: 1460.6px;">D</span>
<span class="t num" style="letter-spacing: -0.08px; left: 729.27px; top: 1459.75px;">9.31</span>
<span class="t num" style="letter-spacing: -0.08px; left: 889.27px; top: 1459.75px;">8.06</span>
<span class="t num" style="letter-spacing: -0.08px; left: 1033.1px; top: 1459.75px;">13,669</span>
<span class="t num" style="letter-spacing: -0.08px; left: 1201.09px; top: 1459.75px;">4,390</span>
<span class="t num" style="letter-spacing: -0.08px; left: 1353.1px; top: 1459.75px;">47,353</span>
<span class="t num" style="letter-spacing: -0.08px; left: 1521.09px; top: 1459.75px;">3,786</span>
<span class="t red" style="word-spacing: 1.3px; letter-spacing: -0.439px; left: 307.9px; top: 1488.75px;">AAL Dalian</span>
<div class="a" style="left:452px;top:1486.4px;width:16px;height:19.4px;border-radius:5.5px;background:#ffe5e5"></div>
<span class="t" style="color: rgb(51, 51, 51); font-size: 13.8px; letter-spacing: 0px; left: 454.3px; top: 1489.6px;">D</span>
<span class="t num" style="letter-spacing: -0.08px; left: 729.27px; top: 1488.75px;">9.37</span>
<span class="t num" style="letter-spacing: -0.08px; left: 889.27px; top: 1488.75px;">8.06</span>
<span class="t num" style="letter-spacing: -0.08px; left: 1033.1px; top: 1488.75px;">15,366</span>
<span class="t num" style="letter-spacing: -0.08px; left: 1201.09px; top: 1488.75px;">4,934</span>
<span class="t num" style="letter-spacing: -0.08px; left: 1353.1px; top: 1488.75px;">52,923</span>
<span class="t num" style="letter-spacing: -0.08px; left: 1521.09px; top: 1488.75px;">4,140</span>
<span class="t red" style="word-spacing: 1.3px; letter-spacing: -0.287px; left: 307.9px; top: 1517.75px;">AAL Dampier</span>
<div class="a" style="left:452px;top:1515.4px;width:16px;height:19.4px;border-radius:5.5px;background:#ffe5e5"></div>
<span class="t" style="color: rgb(51, 51, 51); font-size: 13.8px; letter-spacing: 0px; left: 454.3px; top: 1518.6px;">D</span>
<span class="t num" style="letter-spacing: -0.08px; left: 721.29px; top: 1517.75px;">12.49</span>
<span class="t num" style="letter-spacing: -0.08px; left: 882.37px; top: 1517.75px;">11.64</span>
<span class="t num" style="letter-spacing: -0.08px; left: 1033.1px; top: 1517.75px;">16,607</span>
<span class="t num" style="letter-spacing: -0.08px; left: 1201.09px; top: 1517.75px;">5,333</span>
<span class="t num" style="letter-spacing: -0.08px; left: 1353.1px; top: 1517.75px;">69,984</span>
<span class="t num" style="letter-spacing: -0.08px; left: 1521.09px; top: 1517.75px;">5,152</span>
<svg style="left:1816px;top:1122px" width="56" height="20" viewBox="1816 1122 56 20" fill="none" stroke="#c00" stroke-width="1.5" stroke-linecap="round" stroke-linejoin="round">
<path d="M1824.9 1125 H1829 V1130.3 H1832.2 L1826.95 1135.7 L1821.7 1130.3 H1824.9 Z"></path>
<path d="M1823.4 1133.9 H1819.9 Q1818.9 1133.9 1818.9 1134.9 V1137.9 Q1818.9 1138.9 1819.9 1138.9 H1834.1 Q1835.1 1138.9 1835.1 1137.9 V1134.9 Q1835.1 1133.9 1834.1 1133.9 H1830.5"></path>
<circle cx="1832.4" cy="1136.5" r="0.45" fill="#c00" stroke-width="0.7"></circle>
<rect x="1852" y="1125.8" width="14" height="12.4" rx="1.2"></rect><path d="M1859 1126 V1138 M1852 1126.6 H1866"></path><path d="M1852.4 1126.6 H1865.6" stroke-width="2.2" stroke-linecap="butt"></path>
</svg>
<svg style="left:1880px;top:1122px" width="12" height="18" viewBox="1880 1122 12 18"><circle cx="1885.8" cy="1126.3" r="2.05" fill="#c00"></circle><path d="M1883 1129.7 H1887.3 V1135.7 H1888.5 V1138 H1883 V1135.7 H1884.1 V1131.9 H1883 Z" fill="#c00"></path></svg>
<span class="t" style="color: rgb(153, 153, 153); letter-spacing: -0.034px; left: 1490.6px; top: 1560.95px;">1 - 10 of 55 rows</span>
<div class="a" style="left:1622px;top:1552px;width:20px;height:32px;border:1px solid #ddd;border-radius:6px;background:#fff"></div>
<div class="a" style="left:1654px;top:1552px;width:56px;height:32px;border:1px solid #aaa;border-radius:6px;background:#f5f5f5"></div>
<span class="t" style="letter-spacing: 0px; left: 1677.49px; top: 1560.95px;">1</span>
<span class="t" style="letter-spacing: -0.174px; left: 1722.8px; top: 1560.95px;">of 6</span>
<div class="a" style="left:1759px;top:1552px;width:20px;height:32px;border:1px solid #ddd;border-radius:6px;background:#fff"></div>
<div class="a" style="left:1791px;top:1552px;width:85px;height:32px;border:1px solid #ddd;border-radius:6px;background:#fff"></div>
<span class="t" style="font-size: 12.5px; letter-spacing: -0.022px; left: 1800.3px; top: 1562.15px;">10 rows</span>
<svg style="left:1620px;top:1560px" width="260" height="16" viewBox="1620 1560 260 16" fill="none" stroke-linecap="round" stroke-linejoin="round">
<path d="M1634.4 1564 L1630.6 1568 L1634.4 1572" stroke="#aaa" stroke-width="1.5"></path>
<path d="M1766.6 1564 L1770.4 1568 L1766.6 1572" stroke="#333" stroke-width="1.5"></path>
<path d="M1863.6 1566 L1867.3 1569.8 L1871 1566" stroke="#222" stroke-width="2" stroke-linecap="butt" stroke-linejoin="miter"></path>
</svg>
<!-- footer -->
<div class="a" style="left:257px;top:1696px;width:1663px;height:1px;background:#c9c9c9"></div>
<div class="a" style="left:289px;top:1769px;width:1599px;height:1px;background:#d6d6d6"></div>
<span class="t" style="font-size: 16px; color: rgb(58, 58, 58); letter-spacing: 0.415px; left: 679.7px; top: 1660.9px;">Tradewinds news feed:</span>
<span class="t red" style="font-size: 16px; letter-spacing: 0.294px; left: 875.3px; top: 1660.9px;">VLCC charterers need to ‘man up’ on rates as demand for tankers r...</span>
<div class="a" style="left:1409px;top:1653px;width:89px;height:30px;border:1px solid #c00;border-radius:5px"></div>
<span class="t red" style="font-size: 14px; letter-spacing: 0.126px; left: 1422.7px; top: 1661px;">See more</span>
<span class="t fl" style="letter-spacing: -0.132px; left: 678px; top: 1719.6px;">Blog</span>
<span class="t fl" style="letter-spacing: -0.247px; left: 739.3px; top: 1719.6px;">Who we are</span>
<span class="t fl" style="letter-spacing: -0.069px; left: 847.5px; top: 1719.6px;">Reports</span>
<span class="t fl" style="letter-spacing: -0.974px; left: 931px; top: 1719.6px;">API</span>
<span class="t fl" style="letter-spacing: -0.408px; left: 983.7px; top: 1719.6px;">Legal</span>
<span class="t fl" style="letter-spacing: 0.022px; left: 1050.6px; top: 1719.6px;">Work for us</span>
<span class="t fl" style="letter-spacing: -0.215px; left: 1158.4px; top: 1719.6px;">Contact us</span>
<span class="t fl" style="letter-spacing: -1.101px; left: 1259.2px; top: 1719.6px;">FAQs</span>
<span class="t fl" style="letter-spacing: -0.542px; left: 1325.4px; top: 1719.6px;">Glossary</span>
<span class="t fl" style="letter-spacing: 0.086px; left: 1412.5px; top: 1719.6px;">Methodology</span>
<span class="t" style="color: rgb(106, 106, 106); letter-spacing: 0.02px; left: 789.4px; top: 1792.75px;">Copyright © 2010 - 2025 VesselsValue Ltd. All rights reserved. VesselsValue are not responsible for external links.</span>
<svg style="left:636px;top:1790px" width="140" height="32" viewBox="636 1790 140 32">
<!-- X -->
<path d="M641.6 1796.1 H647.6 L662.6 1815.9 H656.6 Z M644.4 1797.5 L657.6 1814.5 H659.8 L646.6 1797.5 Z" fill="#444" fill-rule="evenodd"></path>
<path d="M659.3 1796.1 H662 L644.5 1815.9 H641.8 Z" fill="#444"></path>
<!-- instagram -->
<rect x="677.2" y="1796.3" width="18.6" height="19" rx="5" fill="none" stroke="#444" stroke-width="1.8"></rect>
<circle cx="686.5" cy="1805.8" r="4.3" fill="none" stroke="#444" stroke-width="1.7"></circle>
<circle cx="692" cy="1800.3" r="1.1" fill="#444"></circle>
<!-- linkedin -->
<rect x="709" y="1795.3" width="21" height="21" rx="1.7" fill="#444"></rect>
<rect x="712" y="1803.3" width="3" height="10" fill="#e5e5e5"></rect><circle cx="713.5" cy="1800.1" r="1.8" fill="#e5e5e5"></circle>
<path d="M717 1803.3 H719.9 V1804.7 C720.6 1803.6 721.8 1803 723.3 1803 C726 1803 727 1804.8 727 1807.6 V1813.3 H724 V1808.2 C724 1806.6 723.6 1805.7 722.3 1805.7 C720.9 1805.7 720 1806.7 720 1808.3 V1813.3 H717 Z" fill="#e5e5e5"></path>
<!-- wechat -->
<path d="M751.2 1795.2 C746.1 1795.2 742.1 1798.6 742.1 1802.9 C742.1 1805.3 743.4 1807.4 745.5 1808.8 L744.4 1811.6 L748 1809.9 C749 1810.2 750.1 1810.4 751.2 1810.4 C751.6 1810.4 752.2 1810.4 752.6 1810.3 C752.4 1809.7 752.3 1809.1 752.3 1808.5 C752.3 1804.6 756 1801.4 760.6 1801.4 C760.9 1801.4 761 1801.4 761.2 1801.4 C760.3 1797.8 756.2 1795.2 751.2 1795.2 Z" fill="#444"></path>
<circle cx="748.2" cy="1800.1" r="1.1" fill="#e5e5e5"></circle><circle cx="754.4" cy="1800.1" r="1.1" fill="#e5e5e5"></circle>
<path d="M768.4 1808.7 C768.4 1805.2 765 1802.3 760.8 1802.3 C756.6 1802.3 753.2 1805.2 753.2 1808.7 C753.2 1812.3 756.6 1815.2 760.8 1815.2 C761.7 1815.2 762.6 1815 763.4 1814.8 L766.2 1816.3 L765.5 1813.8 C767.3 1812.6 768.4 1810.8 768.4 1808.7 Z" fill="#444"></path>
<circle cx="758.3" cy="1806.9" r="0.95" fill="#e5e5e5"></circle><circle cx="763.3" cy="1806.9" r="0.95" fill="#e5e5e5"></circle>
</svg>


</body></html>
